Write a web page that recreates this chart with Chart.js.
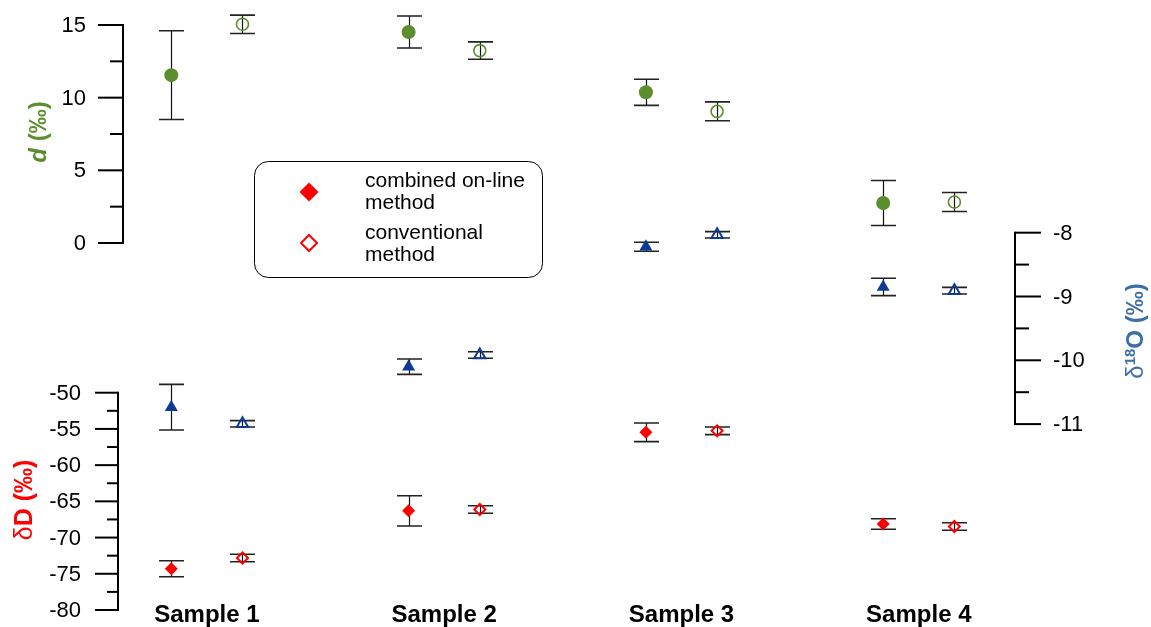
<!DOCTYPE html>
<html>
<head>
<meta charset="utf-8">
<script src="https://cdn.jsdelivr.net/npm/chart.js@4.4.1/dist/chart.umd.min.js"></script>
<style>
  html, body { margin: 0; padding: 0; background: #ffffff; }
  canvas { display: block; }
</style>
</head>
<body>
<canvas id="chart" width="1151" height="627"></canvas>
<script>
// Categories
const samples = ['Sample 1', 'Sample 2', 'Sample 3', 'Sample 4'];

// Deuterium excess d (‰)
const dCombined = [11.55, 14.52, 10.37, 2.75];
const dCombinedErr = [3.05, 1.10, 0.90, 1.55];
const dConventional = [15.05, 13.24, 9.06, 2.82];
const dConventionalErr = [0.63, 0.60, 0.65, 0.65];

// δD (‰)
const dDCombined = [-74.30, -66.31, -55.47, -68.13];
const dDCombinedErr = [1.10, 2.09, 1.29, 0.73];
const dDConventional = [-72.82, -66.13, -55.26, -68.47];
const dDConventionalErr = [0.51, 0.52, 0.53, 0.52];

// δ18O (‰)
const d18OCombined = [-10.735, -10.10, -8.22, -8.851];
const d18OCombinedErr = [0.358, 0.12, 0.07, 0.136];
const d18OConventional = [-10.995, -9.917, -8.033, -8.909];
const d18OConventionalErr = [0.05, 0.05, 0.05, 0.052];

// Tick labels of the three value axes
const dTicks = [0, 5, 10, 15];
const dDTicks = [-80, -75, -70, -65, -60, -55, -50];
const d18OTicks = [-11, -10, -9, -8];

// Legend entries
const legendLabels = [['combined on-line', 'method'], ['conventional', 'method']];

const GREEN = '#5b8e2c';
const BLUE = '#0b3b97';
const BLUE_TITLE = '#3d6fa7';
const RED = '#ff0000';
const FONT = '"Liberation Sans", Arial, Helvetica, sans-serif';
const OFFSET = 0.15; // horizontal shift of the two methods around each sample

function points(values, dx) {
  return values.map((v, i) => ({ x: i + 1 + dx, y: v }));
}

// Error bars behind the markers
const errorBars = {
  id: 'errorBars',
  beforeDatasetsDraw(chart) {
    const ctx = chart.ctx;
    const xs = chart.scales.x;
    ctx.save();
    chart.data.datasets.forEach(ds => {
      const ys = chart.scales[ds.yAxisID];
      ds.data.forEach((p, i) => {
        const e = ds.errors[i];
        const px = Math.round(xs.getPixelForValue(p.x)) + 0.5;
        const yTop = ys.getPixelForValue(p.y + e);
        const yBot = ys.getPixelForValue(p.y - e);
        ctx.strokeStyle = '#111';
        ctx.lineWidth = 1.2;
        ctx.beginPath();
        ctx.moveTo(px, yTop);
        ctx.lineTo(px, yBot);
        ctx.stroke();
        ctx.lineWidth = 1.6;
        ctx.strokeStyle = '#222';
        ctx.beginPath();
        ctx.moveTo(px - 12.5, yTop);
        ctx.lineTo(px + 12.5, yTop);
        ctx.moveTo(px - 12.5, yBot);
        ctx.lineTo(px + 12.5, yBot);
        ctx.stroke();
      });
    });
    ctx.restore();
  }
};

// Partial value axes, axis titles and the legend box
const axisSpecs = [
  { id: 'yD', x: 123, side: -1, majors: dTicks, minor: 2.5, majorLen: 25, minorLen: 13, gap: 37 },
  { id: 'yDD', x: 118, side: -1, majors: dDTicks, minor: 2.5, majorLen: 23, minorLen: 11, gap: 37 },
  { id: 'yO', x: 1015, side: 1, majors: d18OTicks, minor: 0.5, majorLen: 26, minorLen: 14, gap: 38 }
];

function drawRotated(ctx, cx, cy, parts) {
  ctx.save();
  ctx.translate(cx, cy);
  ctx.rotate(-Math.PI / 2);
  ctx.textBaseline = 'middle';
  ctx.textAlign = 'left';
  let total = 0;
  parts.forEach(p => { ctx.font = p.font; total += ctx.measureText(p.text).width; });
  let x = -total / 2;
  parts.forEach(p => {
    ctx.font = p.font;
    ctx.fillStyle = p.color;
    ctx.fillText(p.text, x, p.dy || 0);
    x += ctx.measureText(p.text).width;
  });
  ctx.restore();
}

function diamond(ctx, x, y, r) {
  ctx.beginPath();
  ctx.moveTo(x, y - r);
  ctx.lineTo(x + r, y);
  ctx.lineTo(x, y + r);
  ctx.lineTo(x - r, y);
  ctx.closePath();
}

const decorations = {
  id: 'decorations',
  afterDraw(chart) {
    const ctx = chart.ctx;
    ctx.save();
    axisSpecs.forEach(a => {
      const s = chart.scales[a.id];
      const lo = a.majors[0], hi = a.majors[a.majors.length - 1];
      ctx.strokeStyle = '#000';
      ctx.lineWidth = 2;
      ctx.beginPath();
      ctx.moveTo(a.x, s.getPixelForValue(lo) + 1);
      ctx.lineTo(a.x, s.getPixelForValue(hi) - 1);
      ctx.stroke();
      for (let v = lo; v <= hi + 1e-9; v += a.minor) {
        const y = s.getPixelForValue(v);
        const isMajor = a.majors.some(m => Math.abs(m - v) < 1e-9);
        const len = isMajor ? a.majorLen : a.minorLen;
        ctx.beginPath();
        ctx.moveTo(a.x, y);
        ctx.lineTo(a.x + a.side * len, y);
        ctx.stroke();
      }
      ctx.fillStyle = '#000';
      ctx.font = '22px ' + FONT;
      ctx.textBaseline = 'middle';
      ctx.textAlign = a.side < 0 ? 'right' : 'left';
      a.majors.forEach(m => {
        ctx.fillText(String(m), a.x + a.side * a.gap, s.getPixelForValue(m) + 1);
      });
    });

    // Axis titles
    drawRotated(ctx, 39, 132, [
      { text: 'd', font: 'italic bold 24px ' + FONT, color: GREEN },
      { text: ' (‰)', font: 'bold 24px ' + FONT, color: GREEN }
    ]);
    drawRotated(ctx, 25, 500, [
      { text: 'δ', font: '25px ' + FONT, color: RED },
      { text: 'D (‰)', font: 'bold 25px ' + FONT, color: RED }
    ]);
    drawRotated(ctx, 1136, 331, [
      { text: 'δ', font: '24px ' + FONT, color: BLUE_TITLE },
      { text: '18', font: 'bold 15px ' + FONT, color: BLUE_TITLE, dy: -5 },
      { text: 'O (‰)', font: 'bold 24px ' + FONT, color: BLUE_TITLE }
    ]);

    // Legend
    ctx.strokeStyle = '#000';
    ctx.lineWidth = 1;
    ctx.beginPath();
    ctx.roundRect(254.5, 161.5, 288, 116, 14);
    ctx.stroke();
    ctx.fillStyle = RED;
    diamond(ctx, 309, 192, 9.5);
    ctx.fill();
    ctx.strokeStyle = RED;
    ctx.lineWidth = 2;
    diamond(ctx, 309, 243, 8);
    ctx.stroke();
    ctx.fillStyle = '#000';
    ctx.font = '21px ' + FONT;
    ctx.textAlign = 'left';
    ctx.textBaseline = 'middle';
    const rows = [[181.5, 203.5], [233.5, 255.5]];
    legendLabels.forEach((lines, i) => {
      lines.forEach((t, j) => ctx.fillText(t, 365, rows[i][j]));
    });
    ctx.restore();
  }
};

const filledStyle = (color, style, r) => ({
  pointStyle: style, pointRadius: r, pointHoverRadius: r,
  backgroundColor: color, borderColor: color, borderWidth: 0
});
const openStyle = (color, style, r) => ({
  pointStyle: style, pointRadius: r, pointHoverRadius: r,
  backgroundColor: 'rgba(255,255,255,0)', borderColor: color, borderWidth: 2
});

new Chart(document.getElementById('chart'), {
  type: 'scatter',
  data: {
    datasets: [
      { label: 'd combined', yAxisID: 'yD', data: points(dCombined, -OFFSET), errors: dCombinedErr, ...filledStyle(GREEN, 'circle', 7) },
      { label: 'd conventional', yAxisID: 'yD', data: points(dConventional, OFFSET), errors: dConventionalErr, ...openStyle(GREEN, 'circle', 6), borderWidth: 1.6 },
      { label: 'δ18O combined', yAxisID: 'yO', data: points(d18OCombined, -OFFSET), errors: d18OCombinedErr, ...filledStyle(BLUE, 'triangle', 7.5) },
      { label: 'δ18O conventional', yAxisID: 'yO', data: points(d18OConventional, OFFSET), errors: d18OConventionalErr, ...openStyle(BLUE, 'triangle', 6.5) },
      { label: 'δD combined', yAxisID: 'yDD', data: points(dDCombined, -OFFSET), errors: dDCombinedErr, ...filledStyle(RED, 'rectRot', 6.5) },
      { label: 'δD conventional', yAxisID: 'yDD', data: points(dDConventional, OFFSET), errors: dDConventionalErr, ...openStyle(RED, 'rectRot', 5.5) }
    ]
  },
  options: {
    responsive: false,
    animation: false,
    devicePixelRatio: 1,
    layout: { padding: 0, autoPadding: false },
    plugins: { legend: { display: false }, tooltip: { enabled: false } },
    scales: {
      x: {
        type: 'linear',
        min: 0.12811,
        max: 4.97851,
        grid: { display: false, drawTicks: false },
        border: { display: false },
        afterBuildTicks: scale => { scale.ticks = samples.map((_, i) => ({ value: i + 1 })); },
        afterFit: scale => { scale.height = 27; },
        ticks: {
          autoSkip: false,
          maxRotation: 0,
          padding: 1,
          color: '#000',
          font: { family: FONT, size: 24, weight: 'bold' },
          callback: (v, i) => samples[i]
        }
      },
      yD: { type: 'linear', display: false, min: -24.565, max: 16.720 },
      yDD: { type: 'linear', display: false, min: -78.62, max: 4.22 },
      yO: { type: 'linear', display: false, min: -13.757, max: -4.353 }
    }
  },
  plugins: [errorBars, decorations]
});
</script>
</body>
</html>
